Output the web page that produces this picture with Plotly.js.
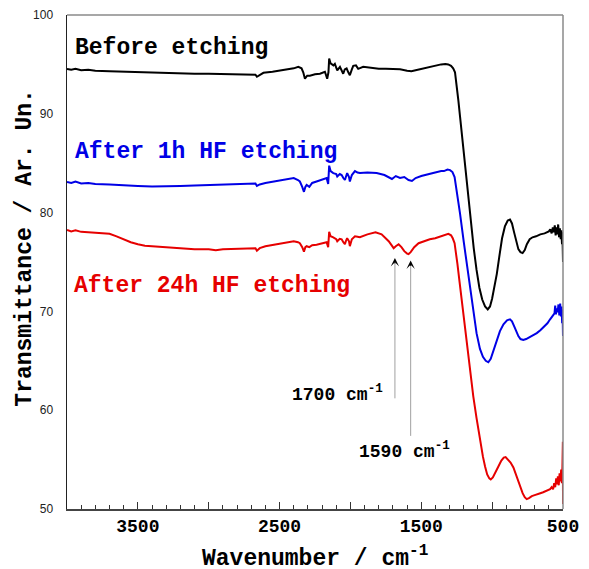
<!DOCTYPE html>
<html>
<head>
<meta charset="utf-8">
<script src="https://cdn.plot.ly/plotly-3.0.1.min.js"></script>
<style>html,body{margin:0;padding:0;background:#fff}#chart{width:589px;height:569px}</style>
</head>
<body>
<div id="chart"></div>
<script>
// ---- Data ----
const seriesNames = ["Before etching", "After 1h HF etching", "After 24h HF etching"];

const wnBefore = [4000,3970,3940,3900,3850,3800,3700,3600,3500,3400,3300,3200,3100,3000,2900,2800,2700,2670,2660,2640,2614,2550,2474,2400,2368,2345,2333,2321,2305,2286,2250,2215,2180,2164,2155,2150,2140,2133,2120,2110,2093,2074,2062,2051,2040,2027,2015,2004,1990,1980,1961,1945,1910,1850,1800,1750,1700,1650,1600,1570,1540,1500,1450,1400,1360,1330,1310,1290,1275,1262,1250,1238,1227,1210,1191,1170,1150,1130,1110,1090,1070,1050,1031,1015,1000,985,967,950,930,910,890,874,860,845,830,815,800,785,770,755,735,715,690,660,630,600,590,580,572,565,558,552,546,540,534,528,522,516,511,507,504,502,501,500];
const tBefore = [94.55,94.45,94.55,94.4,94.45,94.35,94.3,94.25,94.2,94.15,94.1,94.1,94.05,94.05,94.0,94.0,93.95,93.95,93.75,93.95,94.15,94.25,94.4,94.6,94.75,94.6,94.2,93.55,93.85,93.85,94.0,94.05,94.25,93.55,94.2,95.6,95.1,95.05,94.9,95.05,94.4,94.75,94.3,94.05,94.5,94.6,94.2,93.9,94.5,94.85,94.9,94.55,94.75,94.6,94.55,94.55,94.55,94.5,94.35,94.3,94.4,94.55,94.7,94.85,95.0,95.05,95.0,94.85,94.6,94.2,92.9,91.3,89.8,87.4,84.8,81.9,79.1,76.4,74.2,72.4,71.2,70.5,70.2,70.5,71.3,72.4,73.8,75.5,77.4,78.6,79.2,79.3,78.9,78.0,77.0,76.3,76.0,75.9,76.2,76.8,77.3,77.5,77.6,77.8,77.9,78.1,78.3,77.9,78.5,78.0,78.7,77.7,78.5,77.8,78.8,77.5,78.4,77.3,78.2,76.8,78.0,75.5,77.8,75.0];

const wn1h = [4000,3970,3940,3900,3850,3800,3700,3600,3500,3400,3300,3200,3100,3000,2900,2800,2700,2670,2660,2640,2600,2500,2420,2400,2370,2357,2340,2328,2318,2309,2290,2270,2239,2200,2168,2157,2150,2140,2121,2100,2093,2075,2062,2050,2039,2030,2023,2010,2004,1990,1968,1950,1933,1880,1815,1760,1720,1707,1680,1650,1620,1590,1566,1540,1500,1450,1400,1360,1340,1315,1297,1280,1265,1250,1235,1227,1200,1179,1155,1133,1110,1086,1065,1045,1027,1010,990,967,945,920,895,874,860,845,830,815,800,780,760,735,710,685,660,630,610,591,575,560,555,550,544,538,532,526,520,515,510,506,503,500];
const t1h = [83.1,83.0,83.15,82.95,83.0,82.9,82.85,82.75,82.7,82.65,82.65,82.7,82.75,82.8,82.85,82.9,82.95,82.95,82.7,82.85,83.0,83.25,83.45,83.5,83.3,83.15,82.6,82.1,82.6,82.8,82.6,83.0,83.15,83.3,83.5,82.9,84.75,84.2,84.0,83.9,83.65,83.9,83.8,83.5,83.3,83.7,84.0,83.6,83.15,83.8,84.2,84.05,84.0,84.05,84.0,83.8,83.55,83.4,83.7,83.5,83.6,83.3,83.2,83.5,83.7,83.9,84.1,84.2,84.2,84.35,84.3,84.1,83.6,82.3,80.8,79.95,77.0,74.9,72.3,69.9,67.8,66.2,65.4,65.0,64.85,65.2,66.0,67.1,68.0,68.7,69.1,69.2,69.0,68.5,67.9,67.5,67.2,67.1,67.2,67.4,67.6,67.8,68.1,68.5,68.8,69.2,69.5,69.8,70.6,69.7,70.3,69.9,70.7,69.6,70.8,69.5,70.5,68.8,70.2,67.5];

const wn24h = [4000,3970,3940,3900,3850,3800,3750,3700,3650,3600,3550,3500,3450,3400,3350,3300,3200,3100,3000,2950,2900,2800,2700,2670,2660,2640,2600,2500,2420,2400,2370,2357,2340,2328,2318,2309,2290,2270,2239,2200,2168,2157,2150,2140,2121,2100,2093,2075,2062,2050,2039,2030,2023,2010,2004,1990,1968,1950,1933,1880,1823,1780,1750,1730,1710,1695,1680,1660,1640,1620,1600,1590,1575,1550,1519,1480,1440,1402,1360,1330,1309,1290,1278,1265,1255,1245,1230,1215,1200,1185,1170,1150,1133,1110,1086,1065,1050,1035,1020,1010,995,975,956,935,918,905,890,870,850,830,815,800,785,770,756,740,720,700,685,660,640,620,605,591,580,570,562,555,548,542,536,530,524,518,513,508,504,502,501,500];
const t24h = [78.25,78.1,78.2,78.05,78.0,77.95,77.95,77.85,77.6,77.3,77.0,76.8,76.65,76.6,76.55,76.45,76.35,76.3,76.3,76.2,76.3,76.35,76.4,76.4,76.15,76.4,76.6,76.85,77.05,77.1,77.0,76.9,76.5,76.05,76.5,76.6,76.5,76.7,76.75,76.9,77.0,76.5,78.05,77.6,77.5,77.3,77.1,77.35,77.3,77.0,76.8,77.2,77.4,77.1,76.6,77.3,77.6,77.55,77.5,77.8,78.0,77.8,77.4,77.1,76.7,76.4,76.6,76.8,76.5,76.1,75.85,75.8,76.0,76.5,76.9,77.1,77.3,77.4,77.6,77.8,77.85,77.7,77.4,76.9,76.0,74.8,73.0,71.2,69.2,67.2,65.3,63.0,61.4,59.2,57.0,55.3,54.3,53.5,53.1,53.0,53.2,53.7,54.3,54.9,55.2,55.25,55.0,54.7,54.2,53.4,52.7,52.2,51.6,51.2,51.0,51.1,51.3,51.4,51.5,51.6,51.7,51.8,51.9,52.0,52.2,52.0,52.6,52.2,53.1,52.5,53.3,52.4,53.6,52.8,54.0,52.6,54.3,52.0,56.8,50.5];

const seriesColors = ["#000000", "#0000e6", "#e60000"];

const xTickVals = [3500, 2500, 1500, 500];      // labelled ticks
const xTickText = ["3500", "2500", "1500", "500"];
const xMajorStep = 500;                          // long ticks
const xMinorStep = 100;                          // short ticks
const yTickVals = [50, 60, 70, 80, 90, 100];
const yTickText = ["50", "60", "70", "80", "90", "100"];

// marked bands: label, arrow position (cm-1), arrow tip, arrow tail
const bandLabels = ["1700 cm<sup>-1</sup>", "1590 cm<sup>-1</sup>"];
const bandPos = [1686, 1575];
const bandTip = [75.4, 75.15];
const bandTail = [61.2, 57.4];

// ---- Chart ----
const mono = "'Courier New', 'Liberation Mono', monospace";
const xs = [wnBefore, wn1h, wn24h];
const ys = [tBefore, t1h, t24h];
const traces = xs.map((x, i) => ({
  x: x, y: ys[i], type: "scatter", mode: "lines", name: seriesNames[i],
  line: {color: seriesColors[i], width: 2}, hoverinfo: "skip"
}));
// invisible carriers so the overlay tick axes are drawn
traces.push({x: [4000, 500], y: [50, 50], xaxis: "x2", yaxis: "y", mode: "lines", line: {width: 0}, opacity: 0, hoverinfo: "skip", showlegend: false});
traces.push({x: [4000, 500], y: [50, 50], xaxis: "x3", yaxis: "y", mode: "lines", line: {width: 0}, opacity: 0, hoverinfo: "skip", showlegend: false});

const shapes = [
  {type: "line", xref: "paper", yref: "paper", x0: 0, x1: 1, y0: 1, y1: 1, line: {color: "#8a8a8a", width: 1.5}},
  {type: "line", xref: "paper", yref: "paper", x0: 1, x1: 1, y0: 0, y1: 1, line: {color: "#8a8a8a", width: 1.5}}
];
bandPos.forEach((p, i) => {
  shapes.push({type: "line", xref: "x", yref: "y", x0: p, x1: p, y0: bandTail[i], y1: bandTip[i] - 0.5,
    line: {color: "#a0a0a0", width: 1}});
});

const annotations = [
  {text: seriesNames[0], xref: "paper", yref: "paper", x: 0.012, y: 0.934, xanchor: "left", yanchor: "middle", showarrow: false,
   font: {family: mono, size: 23, color: seriesColors[0], weight: "bold"}},
  {text: seriesNames[1], xref: "paper", yref: "paper", x: 0.012, y: 0.723, xanchor: "left", yanchor: "middle", showarrow: false,
   font: {family: mono, size: 23, color: seriesColors[1], weight: "bold"}},
  {text: seriesNames[2], xref: "paper", yref: "paper", x: 0.010, y: 0.451, xanchor: "left", yanchor: "middle", showarrow: false,
   font: {family: mono, size: 23, color: seriesColors[2], weight: "bold"}},
  {text: bandLabels[0], xref: "paper", yref: "paper", x: 0.450, y: 0.233, xanchor: "left", yanchor: "middle", showarrow: false,
   font: {family: mono, size: 18, color: "#000", weight: "bold"}},
  {text: bandLabels[1], xref: "paper", yref: "paper", x: 0.585, y: 0.118, xanchor: "left", yanchor: "middle", showarrow: false,
   font: {family: mono, size: 18, color: "#000", weight: "bold"}},
  {text: "Wavenumber / cm<sup>-1</sup>", xref: "paper", yref: "paper", x: 0.5, y: -0.098, xanchor: "center", yanchor: "middle", showarrow: false,
   font: {family: mono, size: 23, color: "#000", weight: "bold"}},
  {text: "Transmittance / Ar. Un.", xref: "paper", yref: "paper", x: -0.0847, y: 0.529, xanchor: "center", yanchor: "middle", textangle: -90, showarrow: false,
   font: {family: mono, size: 23, color: "#000", weight: "bold"}}
];
bandPos.forEach((p, i) => {
  annotations.push({text: "", x: p, y: bandTip[i], xref: "x", yref: "y", axref: "x", ayref: "y",
    ax: p, ay: bandTip[i] - 0.7, showarrow: true, arrowhead: 3, arrowsize: 1.4, arrowwidth: 1, arrowcolor: "#000", standoff: 0});
});

const overlayTickAxis = (step, len) => ({
  overlaying: "x", anchor: "y", side: "bottom", range: [4000, 500],
  showgrid: false, zeroline: false, showline: false, showticklabels: false,
  tickmode: "linear", tick0: 0, dtick: step,
  ticks: "inside", ticklen: len, tickwidth: 1, tickcolor: "#333"
});

const layout = {
  width: 589, height: 569, autosize: false,
  margin: {l: 67, r: 26, t: 15, b: 60, pad: 0},
  paper_bgcolor: "#fff", plot_bgcolor: "#fff",
  showlegend: false,
  xaxis: {
    range: [4000, 500], showgrid: false, zeroline: false,
    showline: true, linecolor: "#444", linewidth: 1.5,
    tickmode: "array", tickvals: xTickVals, ticktext: xTickText,
    ticks: "inside", ticklen: 7, tickwidth: 1, tickcolor: "#333",
    tickfont: {family: mono, size: 18, color: "#000", weight: "bold"},
    ticklabelstandoff: 0
  },
  xaxis2: overlayTickAxis(xMajorStep, 7),
  xaxis3: overlayTickAxis(xMinorStep, 4),
  yaxis: {
    range: [50, 100], showgrid: false, zeroline: false,
    showline: true, linecolor: "#222", linewidth: 1.5,
    tickmode: "array", tickvals: yTickVals, ticktext: yTickText,
    ticks: "", tickfont: {family: "'Liberation Sans', Arial, sans-serif", size: 12, color: "#222"},
    ticklabelstandoff: 10
  },
  shapes: shapes,
  annotations: annotations
};

Plotly.newPlot("chart", traces, layout, {staticPlot: true, displayModeBar: false});
</script>
</body>
</html>
